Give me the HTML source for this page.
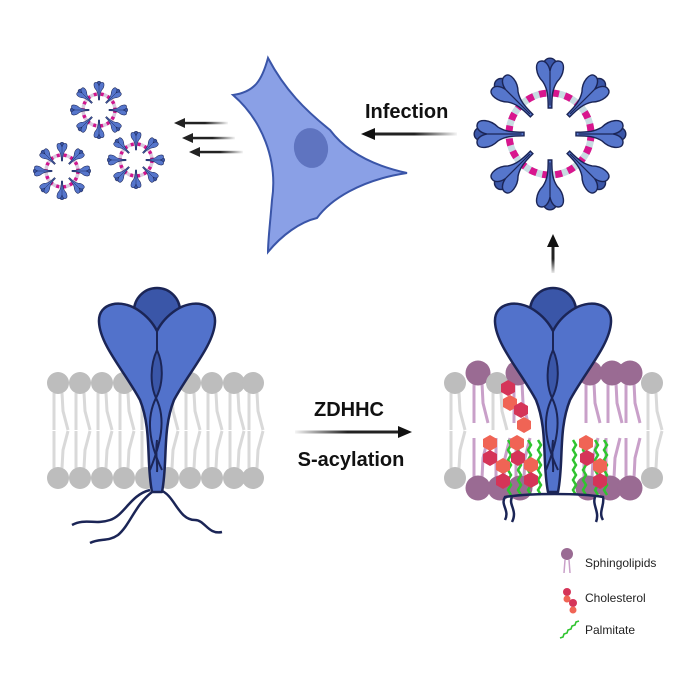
<!DOCTYPE html>
<html><head><meta charset="utf-8"><style>
html,body{margin:0;padding:0;background:#fff}
svg{display:block}
text{font-family:"Liberation Sans",sans-serif}
</style></head><body>
<svg width="700" height="700" viewBox="0 0 700 700" xmlns="http://www.w3.org/2000/svg">
<defs>
<linearGradient id="ga" x1="0" x2="1" y1="0" y2="0"><stop offset="0" stop-color="#222" stop-opacity="0.05"/><stop offset="0.5" stop-color="#222"/><stop offset="1" stop-color="#222"/></linearGradient>
<linearGradient id="gl" x1="1" x2="0" y1="0" y2="0"><stop offset="0" stop-color="#222" stop-opacity="0.05"/><stop offset="0.5" stop-color="#222"/><stop offset="1" stop-color="#222"/></linearGradient>
<linearGradient id="gu" x1="0" x2="0" y1="1" y2="0"><stop offset="0" stop-color="#222" stop-opacity="0.1"/><stop offset="0.5" stop-color="#222"/><stop offset="1" stop-color="#222"/></linearGradient>
<g id="spike">
<circle cx="0" cy="-36" r="5.5" fill="#3a56a8" stroke="#1b2556" stroke-width="1.2"/>
<path d="M-1.5,0 C-1.5,-10 -2,-16 -6,-22 C-12,-28 -13,-38 -8,-39 C-4,-40 -1,-36 0,-31 C1,-36 4,-40 8,-39 C13,-38 12,-28 6,-22 C2,-16 1.5,-10 1.5,0 Z" fill="#5676cc" stroke="#1b2556" stroke-width="1.2"/>
<path d="M0,-31 L0,-2" stroke="#1b2556" stroke-width="1"/>
</g>
<g id="lg"><path d="M-4,10 L-4,47 M4,10 L5,28 L10,47" stroke="#d9d9d9" stroke-width="3" fill="none"/><circle r="11" fill="#bdbdbd"/></g>
<g id="lp"><path d="M-4,10 L-4,50 M4,10 L5,30 L10,50" stroke="#c9a0c9" stroke-width="3" fill="none"/><circle r="12.5" fill="#9a6b93"/></g>
<g id="prot">
<circle cx="157" cy="311" r="23" fill="#3a56a8" stroke="#1b2556" stroke-width="2.5"/>
<path d="M152,492 C146,462 152,430 140,400 C125,372 100,345 99,322 C98,302 122,299 138,310 C147,316 153,323 157,331 C161,323 167,316 176,310 C192,299 216,302 215,322 C214,345 189,372 174,400 C162,430 168,462 162,492 Z" fill="#5272cb" stroke="#1b2556" stroke-width="2.5" stroke-linejoin="round"/>
<path d="M157,331 L157,350 C150,365 150,385 156,398 C163,385 164,365 157,350" fill="#3a56a8" stroke="#1b2556" stroke-width="2"/>
<path d="M156,398 C145,420 150,445 162,470 M156,398 C167,420 160,445 150,470 M157,440 C155,455 158,465 157,472" stroke="#1b2556" stroke-width="2" fill="none"/>
</g>
<g id="sv">
<circle cx="0" cy="0" r="16" fill="none" stroke="#d8c8dc" stroke-width="3.5"/>
<circle cx="0" cy="0" r="16" fill="none" stroke="#d0168e" stroke-width="3.5" stroke-dasharray="3 4"/>
<use href="#spike" transform="rotate(0) translate(0,-10) scale(0.45)"/>
<use href="#spike" transform="rotate(45) translate(0,-10) scale(0.45)"/>
<use href="#spike" transform="rotate(90) translate(0,-10) scale(0.45)"/>
<use href="#spike" transform="rotate(135) translate(0,-10) scale(0.45)"/>
<use href="#spike" transform="rotate(180) translate(0,-10) scale(0.45)"/>
<use href="#spike" transform="rotate(225) translate(0,-10) scale(0.45)"/>
<use href="#spike" transform="rotate(270) translate(0,-10) scale(0.45)"/>
<use href="#spike" transform="rotate(315) translate(0,-10) scale(0.45)"/>
</g>
</defs>

<use href="#sv" transform="translate(99,110)"/>
<use href="#sv" transform="translate(62,171)"/>
<use href="#sv" transform="translate(136,160)"/>

<!-- release arrows -->
<g fill="#222">
<rect x="182" y="121.8" width="46" height="2.5" fill="url(#gl)"/><path d="M174,123 L185,118 L185,128 Z"/>
<rect x="190" y="136.8" width="45" height="2.5" fill="url(#gl)"/><path d="M182,138 L193,133 L193,143 Z"/>
<rect x="197" y="150.8" width="46" height="2.5" fill="url(#gl)"/><path d="M189,152 L200,147 L200,157 Z"/>
</g>

<!-- cell -->
<path d="M268,58 C262,80 255,92 233,95 C262,120 278,160 272,200 C270,225 268,240 268,252 C282,235 300,222 317,218 C330,200 360,180 407,173 C370,165 345,150 330,130 C305,110 285,90 268,58 Z" fill="#8aa0e6" stroke="#3a55a8" stroke-width="2"/>
<ellipse cx="311" cy="148" rx="17" ry="20" transform="rotate(-10 311 148)" fill="#5f74c0"/>

<!-- infection -->
<text x="365" y="118" font-size="20" font-weight="bold" fill="#111">Infection</text>
<rect x="372" y="132.5" width="85" height="3" fill="url(#gl)"/>
<path d="M361,134 L375,128 L375,140 Z" fill="#111"/>

<!-- big virus -->
<g transform="translate(550,134)">
<circle r="41" fill="none" stroke="#c8dce2" stroke-width="7"/>
<circle r="41" fill="none" stroke="#d8168e" stroke-width="7" stroke-dasharray="7 6"/>
<use href="#spike" transform="rotate(0) translate(0,-26) scale(1.2)"/>
<use href="#spike" transform="rotate(45) translate(0,-26) scale(1.2)"/>
<use href="#spike" transform="rotate(90) translate(0,-26) scale(1.2)"/>
<use href="#spike" transform="rotate(135) translate(0,-26) scale(1.2)"/>
<use href="#spike" transform="rotate(180) translate(0,-26) scale(1.2)"/>
<use href="#spike" transform="rotate(225) translate(0,-26) scale(1.2)"/>
<use href="#spike" transform="rotate(270) translate(0,-26) scale(1.2)"/>
<use href="#spike" transform="rotate(315) translate(0,-26) scale(1.2)"/>
</g>

<!-- up arrow -->
<rect x="551.5" y="245" width="3" height="28" fill="url(#gu)"/>
<path d="M553,234 L547,247 L559,247 Z" fill="#111"/>

<!-- left membrane -->
<g>
<use href="#lg" x="58" y="383"/><use href="#lg" x="80" y="383"/><use href="#lg" x="102" y="383"/><use href="#lg" x="124" y="383"/><use href="#lg" x="146" y="383"/><use href="#lg" x="168" y="383"/><use href="#lg" x="190" y="383"/><use href="#lg" x="212" y="383"/><use href="#lg" x="234" y="383"/><use href="#lg" x="253" y="383"/>
<g transform="translate(0,861) scale(1,-1)">
<use href="#lg" x="58" y="383"/><use href="#lg" x="80" y="383"/><use href="#lg" x="102" y="383"/><use href="#lg" x="124" y="383"/><use href="#lg" x="146" y="383"/><use href="#lg" x="168" y="383"/><use href="#lg" x="190" y="383"/><use href="#lg" x="212" y="383"/><use href="#lg" x="234" y="383"/><use href="#lg" x="253" y="383"/>
</g>
</g>
<path d="M150,490 C130,495 125,515 110,520 C95,525 85,518 72,525 M152,492 C135,505 130,525 118,535 C108,542 100,538 90,543 M160,490 C175,495 178,520 195,520 C205,520 208,535 222,532" stroke="#1b2556" stroke-width="2.5" fill="none"/>
<use href="#prot"/>

<!-- arrow ZDHHC -->
<text x="349" y="416" font-size="20" font-weight="bold" fill="#111" text-anchor="middle">ZDHHC</text>
<rect x="295" y="430.5" width="105" height="3" fill="url(#ga)"/>
<path d="M412,432 L398,426 L398,438 Z" fill="#111"/>
<text x="351" y="466" font-size="20" font-weight="bold" fill="#111" text-anchor="middle">S-acylation</text>

<!-- right membrane -->
<g>
<use href="#lg" x="455" y="383"/><use href="#lp" x="478" y="373"/><use href="#lg" x="497" y="383"/><use href="#lp" x="518" y="373"/><use href="#lp" x="590" y="373"/><use href="#lp" x="612" y="373"/><use href="#lp" x="630" y="373"/><use href="#lg" x="652" y="383"/>
<g transform="translate(0,861) scale(1,-1)">
<use href="#lg" x="455" y="383"/><use href="#lp" x="478" y="373"/><use href="#lp" x="500" y="373"/><use href="#lp" x="520" y="373"/><use href="#lp" x="588" y="373"/><use href="#lp" x="610" y="373"/><use href="#lp" x="630" y="373"/><use href="#lg" x="652" y="383"/>
</g>
</g>
<!-- palmitate -->
<g stroke="#2fc42f" stroke-width="2.5" fill="none">
<path d="M508,440 l3,5 -3,5 3,5 -3,5 3,5 -3,5 3,5 -3,5 3,5 -3,5 3,5"/>
<path d="M518,440 l3,5 -3,5 3,5 -3,5 3,5 -3,5 3,5 -3,5 3,5 -3,5 3,5"/>
<path d="M528,440 l3,5 -3,5 3,5 -3,5 3,5 -3,5 3,5 -3,5 3,5 -3,5 3,5"/>
<path d="M538,440 l3,5 -3,5 3,5 -3,5 3,5 -3,5 3,5 -3,5 3,5 -3,5 3,5"/>
<path d="M573,440 l3,5 -3,5 3,5 -3,5 3,5 -3,5 3,5 -3,5 3,5 -3,5 3,5"/>
<path d="M583,440 l3,5 -3,5 3,5 -3,5 3,5 -3,5 3,5 -3,5 3,5 -3,5 3,5"/>
<path d="M595,440 l3,5 -3,5 3,5 -3,5 3,5 -3,5 3,5 -3,5 3,5 -3,5 3,5"/>
<path d="M604,440 l3,5 -3,5 3,5 -3,5 3,5 -3,5 3,5 -3,5 3,5 -3,5 3,5"/>
</g>
<!-- cholesterol -->
<g>
<polygon points="0,-8 7,-4 7,4 0,8 -7,4 -7,-4" fill="#d53458" transform="translate(508,388)"/>
<polygon points="0,-8 7,-4 7,4 0,8 -7,4 -7,-4" fill="#f06455" transform="translate(510,403)"/>
<polygon points="0,-8 7,-4 7,4 0,8 -7,4 -7,-4" fill="#d53458" transform="translate(521,410)"/>
<polygon points="0,-8 7,-4 7,4 0,8 -7,4 -7,-4" fill="#f06455" transform="translate(524,425)"/>
<polygon points="0,-8 7,-4 7,4 0,8 -7,4 -7,-4" fill="#f06455" transform="translate(490,443)"/>
<polygon points="0,-8 7,-4 7,4 0,8 -7,4 -7,-4" fill="#d53458" transform="translate(490,458)"/>
<polygon points="0,-8 7,-4 7,4 0,8 -7,4 -7,-4" fill="#f06455" transform="translate(503,466)"/>
<polygon points="0,-8 7,-4 7,4 0,8 -7,4 -7,-4" fill="#d53458" transform="translate(503,481)"/>
<polygon points="0,-8 7,-4 7,4 0,8 -7,4 -7,-4" fill="#f06455" transform="translate(517,443)"/>
<polygon points="0,-8 7,-4 7,4 0,8 -7,4 -7,-4" fill="#d53458" transform="translate(518,458)"/>
<polygon points="0,-8 7,-4 7,4 0,8 -7,4 -7,-4" fill="#f06455" transform="translate(531,465)"/>
<polygon points="0,-8 7,-4 7,4 0,8 -7,4 -7,-4" fill="#d53458" transform="translate(531,480)"/>
<polygon points="0,-8 7,-4 7,4 0,8 -7,4 -7,-4" fill="#f06455" transform="translate(586,443)"/>
<polygon points="0,-8 7,-4 7,4 0,8 -7,4 -7,-4" fill="#d53458" transform="translate(587,458)"/>
<polygon points="0,-8 7,-4 7,4 0,8 -7,4 -7,-4" fill="#f06455" transform="translate(600,466)"/>
<polygon points="0,-8 7,-4 7,4 0,8 -7,4 -7,-4" fill="#d53458" transform="translate(600,481)"/>
</g>
<path d="M505,520 C510,510 500,505 505,497 C530,493 580,493 603,497 C605,505 598,512 603,520 M512,522 C518,510 508,505 512,497 M595,497 C592,505 600,512 596,522" stroke="#1b2556" stroke-width="2.5" fill="none"/>
<use href="#prot" transform="translate(396,0)"/>

<!-- legend -->
<circle cx="567" cy="554" r="6" fill="#9a6b93"/>
<path d="M565,560 L564,573 M569,560 L570,573" stroke="#c9a0c9" stroke-width="1.5"/>
<text x="585" y="567" font-size="12" fill="#222">Sphingolipids</text>
<circle cx="567" cy="592" r="4" fill="#d53458"/><circle cx="567" cy="599" r="3.5" fill="#f06455"/><circle cx="573" cy="603" r="4" fill="#d53458"/><circle cx="573" cy="610" r="3.5" fill="#f06455"/>
<text x="585" y="602" font-size="12" fill="#222">Cholesterol</text>
<path d="M560,638 l3,-1 1,-3 3,-1 1,-3 3,-1 1,-3 3,-1 1,-3 3,-1" stroke="#2fc42f" stroke-width="1.6" fill="none"/>
<text x="585" y="634" font-size="12" fill="#222">Palmitate</text>
</svg>
</body></html>
